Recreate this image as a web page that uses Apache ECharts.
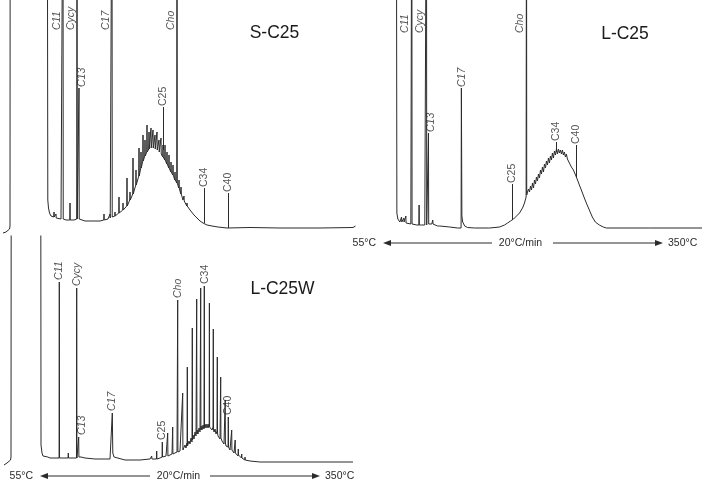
<!DOCTYPE html>
<html><head><meta charset="utf-8">
<script src="https://cdn.jsdelivr.net/npm/echarts/dist/echarts.min.js"></script>
<style>html,body{margin:0;padding:0;background:#fff}#c{width:709px;height:484px}</style>
</head><body><div id="c"></div>
<script>
// ---------- DATA (x = retention scan index, y = detector response) ----------
const OFF = 400; // off-scale response (clipped at top of panel)

// S-C25 trace: baseline / UCM envelope points [scan, response]
const sEnvelope = [[3,-3],[6,-2],[8,-1],[9.5,1],[10,4],[10.2,OFF],[47.3,OFF],[47.8,30],[48.5,22],[49.5,17],[51,14],[53,13],[55,12],[58,11],[61,11],[66,10],[74,10],[78,11],[81,10],[85,9],[95,9],[100,9],[104,10],[108,11],[112,13],[116,15],[120,17],[124,21],[127,24],[130,30],[133,36],[136,45],[139,54],[141,62],[143,69],[145,74],[147,78],[149,81],[151,82],[153,82],[155,81],[157,80],[159,78],[161,76],[163,73],[165,70],[167,66],[169,62],[171,58],[173,55],[175,50],[177,47],[179,42],[181,36],[183,30],[185,27],[187,24],[190,20],[194,15],[197,12],[200,9],[203,7],[207,5],[212,4],[218,3],[227,2],[250,2.5],[280,2],[320,2],[353,2.5],[354.5,0.5],[355.5,4]];
// S-C25 resolved peaks [scan, base, apex]
const sPeaks = [[54,13,18],[56,12,16],[63,11,OFF],[70,10,27],[77,11,OFF],[79,11,142],[104,10,16],[110,12,16],[112,13,OFF],[115,14,18],[119,17,33],[123,20,27],[127,24,52],[130,30,38],[133,36,72],[136,45,60],[139,54,82],[141,62,78],[143,69,95],[145,74,90],[147,78,105],[149,81,98],[151,82,102],[153,82,100],[155,81,95],[157,80,98],[159,78,90],[161,76,92],[163,73,85],[165,70,85],[167,66,78],[169,62,75],[171,58,68],[173,55,65],[175,50,58],[177,47,OFF],[179,42,50],[181,36,43],[184,29,34],[187,24,27]];
const sNames = ['C11','Cycy','C13','C17','C25','Cho','C34','C40'];
const sNameX = [63,77,82.5,112,163,177,204,228];
const sNameTip = [null,null,143,null,124,null,43,38];
const sNameBase = [null,null,null,null,80,null,7,2];

// L-C25 trace
const lEnvelope = [[46.5,OFF],[47,17],[48,11],[50,8],[53,8],[58,7],[61,6],[64,6],[67,5],[72,5],[75,5],[78,6],[80,6],[82,6],[85,5],[90,4],[100,3],[108,2],[111.4,2],[111.7,142],[112.2,14],[113,8],[115,4],[118,2.5],[125,2],[140,2],[150,3],[155,5],[158,7],[161,9],[164,11],[167,14],[170,17],[173,22],[175,27],[176.6,33],[177.4,35],[178,38],[179,41],[180,38],[181,44],[182,40],[183,47],[184,42],[185,50],[186,46],[187,53],[188,49],[189,56],[190,52],[191,60],[192,56],[193,63],[194,58],[195,66],[196,62],[197,69],[198,65],[199,72],[200,67],[201,74],[202,70],[203,77],[204,72],[205,79],[206,75],[207,81],[208,76],[209,81],[210,77],[211,80],[212,76],[213,80],[214,75],[215,78],[216,73],[217,76],[218,71],[219,72],[220,67],[221,68],[222,63],[224,60],[227,53],[230,45],[232,40],[235,32],[237,27],[240,20],[243,13],[246,8],[250,5],[254,3],[257,2],[300,2],[353,2]];
const lPeaks = [[51.7,8,13],[54,8,12],[56,7,14],[62,6,OFF],[69.3,5,25],[76.7,5,OFF],[78.7,6,97],[83,6,10],[88,4,6],[177,33,OFF,35]];
const lNames = ['C11','Cycy','C13','C17','C25','Cho','C34','C40'];
const lNameX = [62,77,81.5,112,163,177,207,227];
const lNameTip = [null,null,98,143,47,null,89,86];
const lNameBase = [null,null,null,null,10,null,78,53];

// L-C25W trace
const wEnvelope = [[4,0],[7,2],[9,3],[10.5,5],[11,8],[11.3,OFF],[40.7,OFF],[41,20],[42,12],[43,9],[45,8],[50,7],[55,7],[60,7],[65,7],[72,7],[78,8],[81,8],[85,7],[95,6],[105,6],[110,6],[111.9,6],[112.3,52],[112.8,12],[114,8],[116,6],[125,5],[140,5],[150,6],[160,7],[166,9],[172,11],[177,13],[180,14],[182,15],[184,17],[185,20],[186,17],[187,22],[188,19],[189,24],[190,21],[191,27],[192,23],[193,30],[194,26],[195,33],[196,29],[197,35],[198,31],[199,37],[200,33],[201,39],[202,35],[203,40],[204,36],[205,41],[206,37],[207,41],[208,37],[209,41],[210,36],[211,40],[212,35],[213,38],[214,33],[215,36],[216,31],[217,34],[218,29],[219,31],[220,26],[221,28],[222,24],[223,26],[224,21],[225,23],[226,19],[227,20],[228,17],[229,18],[230,15],[232,13],[234,12],[236,10],[238,9],[242,7],[246,5],[250,4],[260,3],[300,3],[353,3]];
const wPeaks = [[48,8,10],[51,7,9],[59.3,7,183],[68.3,7,12],[76.7,7,177],[78.7,8,28],[151.7,6,9],[156.7,6,14],[162.3,8,23],[167.7,9,32],[172.7,11,38],[177.7,13,165],[182.7,15,72],[187.3,19,98],[192.3,25,137],[196.7,31,166],[200.7,35,177],[204.3,37,179],[209.4,38,162],[213.3,36,136],[217.3,32,108],[220.7,27,88],[225.2,22,65],[228.3,18,48],[231.7,15,35],[235.2,12,25],[238.3,10,16],[241.7,7,11],[245,5,8]];
const wNames = ['C11','Cycy','C13','C17','C25','Cho','C34','C40'];
const wNameX = [59.3,76.7,82,112.3,162.3,177.7,204.8,228.3];
const wNameTip = [185,179,30,54,25,167,181,50];
const wNameBase = [null,null,null,null,null,null,null,null];

const titles = ['S-C25','L-C25','L-C25W'];
const tempStart = '55°C', tempRate = '20°C/min', tempEnd = '350°C';
const italicNames = ['C11','Cycy','C13','C17','Cho'];

// ---------- BUILD ----------
const INK = '#2b2b2b';
const FONT = '"Liberation Sans", Arial, sans-serif';

function buildTrace(env, peaks) {
  const pts = env.map(p => [p[0], p[1]]);
  peaks.forEach(([x, b, t, a]) => {
    pts.push([x - 0.22, b], [x, t], [x + 0.22, a == null ? b : a]);
  });
  pts.sort((p, q) => p[0] - q[0]);
  return pts;
}

function buildLabels(names, xs, tips, topV) {
  return names.map((n, i) => {
    const off = tips[i] == null;
    return {
      name: n,
      value: off ? [xs[i] - 0.8, topV] : [xs[i], tips[i]],
      label: {
        verticalAlign: off ? 'bottom' : 'middle',
        fontStyle: italicNames.indexOf(n) >= 0 ? 'italic' : 'normal'
      }
    };
  });
}

function buildLeaders(xs, tips, bases) {
  const out = [];
  xs.forEach((x, i) => {
    if (bases[i] != null) out.push([{ coord: [x, bases[i]] }, { coord: [x, tips[i] - 1] }]);
  });
  return out;
}

const panels = [
  { env: sEnvelope, peaks: sPeaks, names: sNames, xs: sNameX, tips: sNameTip, bases: sNameBase, topV: 200 },
  { env: lEnvelope, peaks: lPeaks, names: lNames, xs: lNameX, tips: lNameTip, bases: lNameBase, topV: 197 },
  { env: wEnvelope, peaks: wPeaks, names: wNames, xs: wNameX, tips: wNameTip, bases: wNameBase, topV: 200 }
];

const grids = [
  { left: 0, top: 0, width: 360, height: 235 },
  { left: 350, top: 0, width: 360, height: 235 },
  { left: 0, top: 236, width: 360, height: 234 }
];
const yMax = [230, 230, 229];

const series = [];
panels.forEach((p, i) => {
  series.push({
    type: 'line', xAxisIndex: i, yAxisIndex: i,
    data: buildTrace(p.env, p.peaks),
    showSymbol: false, symbol: 'none', clip: true, silent: true, animation: false,
    lineStyle: { color: INK, width: 1 },
    markLine: {
      silent: true, animation: false, symbol: ['none', 'none'],
      label: { show: false },
      lineStyle: { color: INK, width: 1, type: 'solid' },
      data: buildLeaders(p.xs, p.tips, p.bases)
    }
  });
  series.push({
    type: 'scatter', xAxisIndex: i, yAxisIndex: i, clip: false, silent: true, animation: false,
    symbolSize: 1, itemStyle: { color: 'rgba(0,0,0,0)' },
    data: buildLabels(p.names, p.xs, p.tips, p.topV),
    label: {
      show: true, position: 'inside', align: 'left', rotate: 90,
      formatter: q => q.name, color: INK, fontSize: 10.5, fontFamily: FONT
    }
  });
});

function tempAxis(x0, y, xL1, xL2, xMid, xR1, xR2) {
  return [
    { type: 'text', style: { x: x0, y: y, text: tempStart, textAlign: 'right', textVerticalAlign: 'middle', font: '10.5px ' + FONT, fill: INK } },
    { type: 'line', shape: { x1: xL1 + 6, y1: y, x2: xL2, y2: y }, style: { stroke: INK, lineWidth: 1 } },
    { type: 'polygon', shape: { points: [[xL1, y], [xL1 + 8, y - 3], [xL1 + 8, y + 3]] }, style: { fill: INK } },
    { type: 'text', style: { x: xMid, y: y, text: tempRate, textAlign: 'center', textVerticalAlign: 'middle', font: '10.5px ' + FONT, fill: INK } },
    { type: 'line', shape: { x1: xR1, y1: y, x2: xR2 - 6, y2: y }, style: { stroke: INK, lineWidth: 1 } },
    { type: 'polygon', shape: { points: [[xR2, y], [xR2 - 8, y - 3], [xR2 - 8, y + 3]] }, style: { fill: INK } },
    { type: 'text', style: { x: xR2 + 5, y: y, text: tempEnd, textAlign: 'left', textVerticalAlign: 'middle', font: '10.5px ' + FONT, fill: INK } }
  ];
}

const titleFont = '17.5px ' + FONT;
const graphic = [
  { type: 'text', style: { x: 274.5, y: 33.5, text: titles[0], textAlign: 'center', textVerticalAlign: 'middle', font: titleFont, fill: '#1a1a1a' } },
  { type: 'text', style: { x: 625, y: 34, text: titles[1], textAlign: 'center', textVerticalAlign: 'middle', font: titleFont, fill: '#1a1a1a' } },
  { type: 'text', style: { x: 282.5, y: 289, text: titles[2], textAlign: 'center', textVerticalAlign: 'middle', font: titleFont, fill: '#1a1a1a' } }
].concat(tempAxis(376, 243, 383, 492, 520.5, 553, 663), tempAxis(33, 476, 40, 150, 178.5, 210, 320));

const chart = echarts.init(document.getElementById('c'), null, { renderer: 'canvas' });
chart.setOption({
  animation: false,
  backgroundColor: '#ffffff',
  grid: grids,
  xAxis: grids.map((g, i) => ({ type: 'value', gridIndex: i, min: 0, max: 360, show: false })),
  yAxis: grids.map((g, i) => ({ type: 'value', gridIndex: i, min: -5, max: yMax[i], show: false })),
  series: series,
  graphic: graphic
});
</script></body></html>
